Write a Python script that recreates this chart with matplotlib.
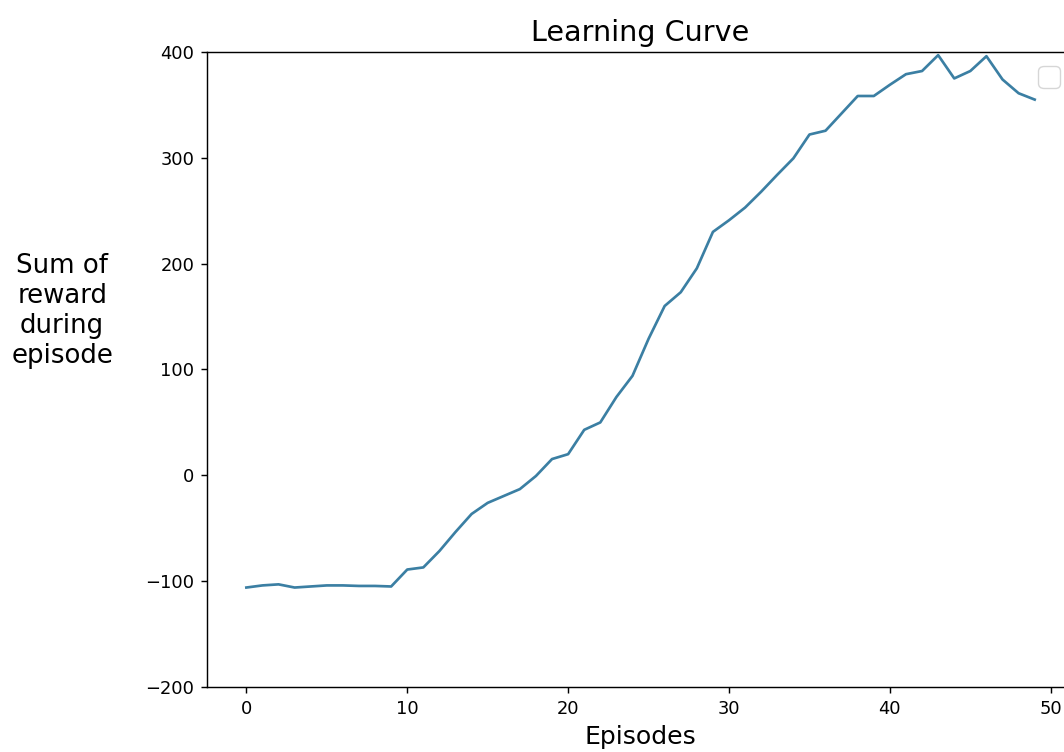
import matplotlib
matplotlib.use("Agg")
import matplotlib.pyplot as plt
import numpy as np

# recompensa por episodio
episodios = list(range(50))
recompensas = [-106, -104, -103, -106, -105, -104, -104, -104.5, -104.5, -105,
               -89, -87, -71.5, -53.5, -36.5, -26, -19.5, -13, -0.6, 15.4,
               20, 43, 50, 74, 94, 129, 160, 173, 195.6, 230,
               241, 253, 268, 284, 299.5, 322, 325.6, 342, 358.4, 358.4,
               369, 379, 382, 397, 375, 382, 396, 374, 361, 355]

esc = 1.29  # la imagen original parece escalada
plt.rcParams['axes.linewidth'] = 0.8 * esc
plt.rcParams['xtick.major.size'] = 3.5 * esc
plt.rcParams['ytick.major.size'] = 3.5 * esc
plt.rcParams['xtick.major.width'] = 0.8 * esc
plt.rcParams['ytick.major.width'] = 0.8 * esc
plt.rcParams['xtick.major.pad'] = 3.5 * esc
plt.rcParams['ytick.major.pad'] = 3.5 * esc
plt.rcParams['xtick.labelsize'] = 10 * esc
plt.rcParams['ytick.labelsize'] = 10 * esc

fig = plt.figure(figsize=(10.64, 7.52), dpi=100)
ax = fig.add_axes([0.1945, 0.0864, 0.815, 0.8445])
ax.plot(episodios, recompensas, color='#3b7fa3', linewidth=1.5 * esc)
ax.set_ylim(-200, 400)
ax.set_title("Learning Curve", fontsize=16 * esc, pad=6 * esc)
ax.set_xlabel("Episodes", fontsize=14 * esc, labelpad=4 * esc)
ax.set_ylabel("Sum of\nreward\nduring\nepisode", rotation=0, fontsize=14.5 * esc,
              multialignment='center', va='bottom', ha='center')
ax.yaxis.set_label_coords(-0.167, 0.5)
# leyenda vacia (sin etiquetas), como en el original
ax.legend(fontsize=20)

fig.savefig("out.png", dpi=100)
